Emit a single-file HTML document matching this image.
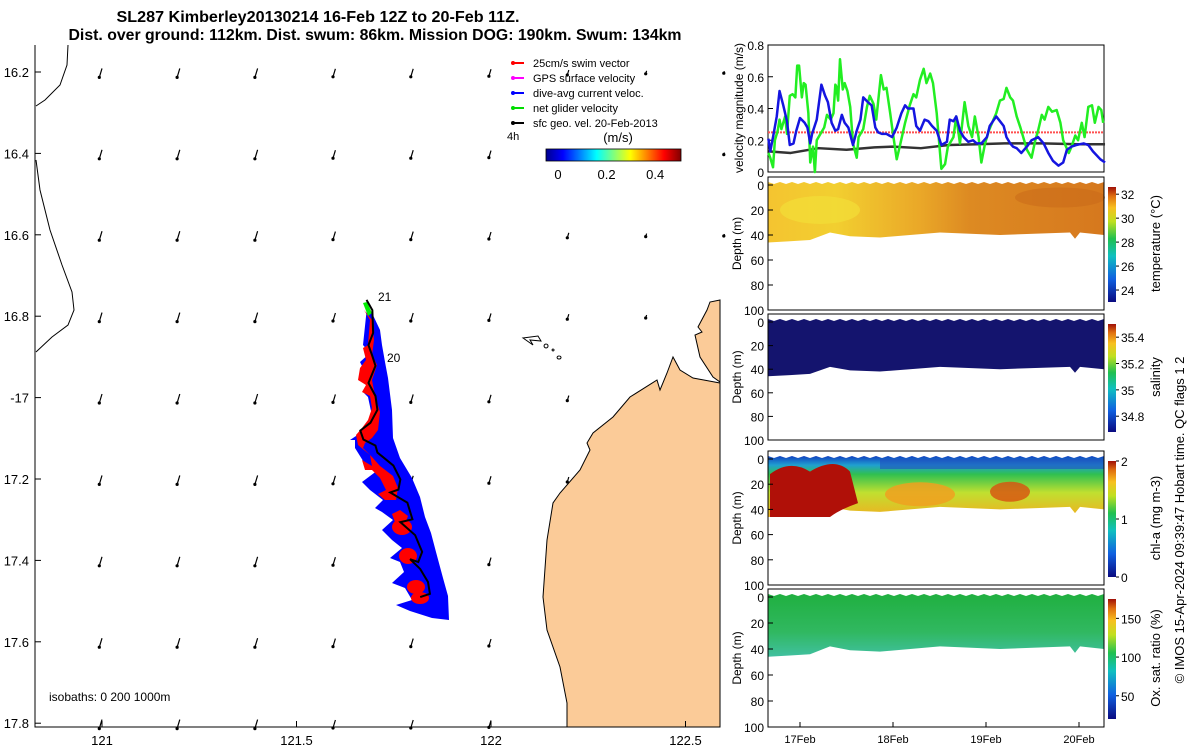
<!DOCTYPE html>
<html><head><meta charset="utf-8">
<style>
body{margin:0;background:#fff;}
svg{display:block;font-family:"Liberation Sans",sans-serif;}
</style></head>
<body>
<svg id="fig" width="1200" height="750" viewBox="0 0 1200 750">
<defs>
<linearGradient id="jet" x1="0" y1="0" x2="1" y2="0">
<stop offset="0" stop-color="#00008f"/><stop offset="0.125" stop-color="#0000ff"/><stop offset="0.375" stop-color="#00ffff"/><stop offset="0.5" stop-color="#7fff7f"/><stop offset="0.625" stop-color="#ffff00"/><stop offset="0.875" stop-color="#ff0000"/><stop offset="1" stop-color="#800000"/>
</linearGradient>
<linearGradient id="parula" x1="0" y1="1" x2="0" y2="0">
<stop offset="0" stop-color="#0a0a80"/><stop offset="0.2" stop-color="#1060e0"/><stop offset="0.4" stop-color="#10c0c0"/><stop offset="0.55" stop-color="#20c050"/><stop offset="0.7" stop-color="#c0e020"/><stop offset="0.82" stop-color="#f8c020"/><stop offset="0.92" stop-color="#e07010"/><stop offset="1" stop-color="#a01008"/>
</linearGradient>
<linearGradient id="tempg" x1="0" y1="0" x2="1" y2="0">
<stop offset="0" stop-color="#f4c430"/><stop offset="0.2" stop-color="#f2cf30"/><stop offset="0.45" stop-color="#eaa828"/><stop offset="0.6" stop-color="#dd8a22"/><stop offset="1" stop-color="#d6781e"/>
</linearGradient>
<linearGradient id="oxg" x1="0" y1="0" x2="0" y2="1">
<stop offset="0" stop-color="#20b040"/><stop offset="0.6" stop-color="#30b860"/><stop offset="1" stop-color="#40c0a0"/>
</linearGradient>
<linearGradient id="chlg" x1="0" y1="0" x2="0" y2="1">
<stop offset="0" stop-color="#1040c0"/><stop offset="0.15" stop-color="#20a0d0"/><stop offset="0.3" stop-color="#30c050"/><stop offset="0.6" stop-color="#c0e030"/><stop offset="1" stop-color="#f0b020"/>
</linearGradient>
</defs>
<g id="map"></g>
<g id="vel"></g>
<g id="sect"></g>
<text x="318" y="22" font-size="15.5" font-weight="bold" text-anchor="middle" textLength="403" lengthAdjust="spacingAndGlyphs">SL287 Kimberley20130214 16-Feb 12Z to 20-Feb 11Z.</text>
<text x="375" y="40" font-size="15.5" font-weight="bold" text-anchor="middle" textLength="613" lengthAdjust="spacingAndGlyphs">Dist. over ground: 112km. Dist. swum: 86km. Mission DOG: 190km. Swum: 134km</text>
<text transform="translate(1184,520) rotate(-90)" font-size="13" text-anchor="middle">© IMOS 15-Apr-2024 09:39:47 Hobart time. QC flags 1  2</text>
</svg>
<script>
// ---------- data ----------
const lonTicks=[121,121.5,122,122.5];
const latTicks=[16.2,16.4,16.6,16.8,17,17.2,17.4,17.6,17.8];
const trackLon=[121.68,121.695,121.697,121.685,121.695,121.703,121.685,121.703,121.708,121.69,121.664,121.672,121.703,121.708,121.749,121.767,121.762,121.741,121.785,121.798,121.767,121.805,121.823,121.813,121.792,121.818,121.838,121.843,121.818];
const trackLat=[16.76,16.785,16.841,16.871,16.898,16.922,16.964,16.996,17.03,17.062,17.081,17.103,17.118,17.135,17.167,17.201,17.226,17.233,17.258,17.299,17.306,17.338,17.379,17.404,17.397,17.421,17.453,17.482,17.49];
const velDays=[16.66,16.68,16.71,16.73,16.76,16.78,16.80,16.84,16.86,16.89,16.92,16.95,16.97,16.99,17.02,17.04,17.06,17.09,17.11,17.14,17.16,17.18,17.22,17.26,17.29,17.33,17.36,17.38,17.39,17.41,17.43,17.46,17.48,17.51,17.54,17.57,17.61,17.63,17.68,17.72,17.75,17.79,17.82,17.87,17.90,17.93,17.97,18.00,18.04,18.08,18.13,18.18,18.22,18.25,18.29,18.33,18.36,18.40,18.43,18.47,18.52,18.56,18.59,18.65,18.68,18.72,18.77,18.81,18.85,18.88,18.92,18.95,18.99,19.03,19.08,19.11,19.15,19.19,19.22,19.26,19.29,19.33,19.37,19.40,19.44,19.49,19.53,19.56,19.60,19.63,19.67,19.71,19.76,19.80,19.83,19.89,19.92,19.96,19.99,20.03,20.06,20.10,20.14,20.17,20.21,20.24,20.26];
const netVel=[0.12,0.09,0.03,0.20,0.26,0.33,0.27,0.35,0.24,0.48,0.49,0.47,0.67,0.67,0.47,0.56,0.55,0.37,0.06,0.16,0.00,0.20,0.24,0.28,0.36,0.33,0.37,0.55,0.54,0.45,0.71,0.52,0.56,0.51,0.41,0.18,0.09,0.22,0.27,0.41,0.48,0.43,0.33,0.61,0.52,0.53,0.37,0.24,0.08,0.18,0.31,0.42,0.49,0.47,0.58,0.65,0.56,0.62,0.56,0.37,0.02,0.05,0.16,0.22,0.35,0.18,0.44,0.29,0.22,0.35,0.22,0.06,0.18,0.26,0.33,0.37,0.45,0.46,0.53,0.47,0.45,0.35,0.28,0.22,0.14,0.09,0.20,0.26,0.36,0.33,0.41,0.38,0.39,0.31,0.20,0.12,0.16,0.23,0.20,0.31,0.22,0.41,0.42,0.31,0.41,0.39,0.31];
const curDays=[16.66,16.68,16.71,16.75,16.78,16.82,16.86,16.89,16.93,16.96,17.00,17.05,17.08,17.11,17.13,17.18,17.23,17.27,17.30,17.34,17.38,17.41,17.45,17.48,17.52,17.57,17.61,17.65,17.68,17.73,17.77,17.81,17.84,17.88,17.93,17.99,18.04,18.09,18.13,18.16,18.22,18.25,18.29,18.34,18.38,18.42,18.47,18.52,18.58,18.61,18.65,18.68,18.72,18.76,18.81,18.86,18.90,18.95,19.01,19.04,19.11,19.15,19.19,19.22,19.26,19.29,19.33,19.38,19.44,19.49,19.56,19.62,19.67,19.72,19.78,19.83,19.87,19.92,19.97,20.05,20.10,20.15,20.23,20.28];
const curVel=[0.21,0.13,0.22,0.35,0.51,0.42,0.32,0.17,0.18,0.26,0.34,0.31,0.28,0.18,0.24,0.33,0.55,0.48,0.44,0.31,0.26,0.27,0.36,0.31,0.28,0.17,0.26,0.33,0.47,0.44,0.42,0.28,0.25,0.24,0.24,0.22,0.28,0.37,0.42,0.40,0.40,0.29,0.26,0.33,0.32,0.29,0.26,0.17,0.19,0.33,0.32,0.35,0.26,0.22,0.19,0.20,0.18,0.18,0.22,0.29,0.35,0.32,0.29,0.22,0.18,0.16,0.15,0.12,0.16,0.20,0.22,0.18,0.12,0.07,0.04,0.06,0.14,0.16,0.17,0.18,0.17,0.13,0.08,0.06];
const geoDays=[16.66,16.9,17.2,17.5,17.8,18.0,18.3,18.6,18.9,19.2,19.6,20.0,20.28];
const geoVel=[0.13,0.12,0.15,0.14,0.155,0.16,0.15,0.17,0.175,0.18,0.18,0.175,0.175];
const swimVel=[0.25,0.25];
const velTicks=[0,0.2,0.4,0.6,0.8];
const dayTicks=[17,18,19,20];
const dayLabels=["17Feb","18Feb","19Feb","20Feb"];
const depthTicks=[0,20,40,60,80,100];
const tempTicks=[24,26,28,30,32];
const salTicks=[34.8,35,35.2,35.4];
const chlTicks=[0,1,2];
const oxTicks=[50,100,150];
const speedTicks=[0,0.2,0.4];

const NS="http://www.w3.org/2000/svg";
function mk(parent,tag,attrs,text){const e=document.createElementNS(NS,tag);for(const k in attrs)e.setAttribute(k,attrs[k]);if(text!==undefined)e.textContent=text;parent.appendChild(e);return e;}

// ---------- map ----------
const map=document.getElementById('map');
const mx=lon=>102+(lon-121)*389;
const my=lat=>72+(lat-16.2)*407;
const ML=35,MT=45,MR=720,MB=727;
let land=mk(map,'polygon',{points:"720,300 710,302 707,310 698,327 702,332 695,335 700,357 713,377 720,382 720,383 693,378 680,370 673,357 667,373 660,390 657,380 630,397 613,417 593,433 587,443 590,450 580,470 560,493 553,503 547,540 543,597 547,630 560,667 567,703 567,727 720,727",fill:"#fbcb98",stroke:"#000","stroke-width":1});


let isl=mk(map,'path',{d:"M523,338 L538,336 L541,341 L530,340 L533,345 Z M546,344 a2,2 0 1,0 0.1,0 M553,349 a1,1 0 1,0 0.1,0 M559,356 a2,1.5 0 1,0 0.1,0",fill:"none",stroke:"#000","stroke-width":1});


let iso1=mk(map,'polyline',{points:"68,45 67,65 60,85 45,100 36,106",fill:"none",stroke:"#000","stroke-width":1});


let iso2=mk(map,'polyline',{points:"36,160 40,190 50,230 62,265 72,292 74,310 68,325 52,337 36,352",fill:"none",stroke:"#000","stroke-width":1});


const colLen=[9,9,9,8,8,7,5,3,2];
const colMaxLat=[17.8,17.8,17.8,17.8,17.8,17.8,17.2,16.8,16.6];
for(let c=0;c<9;c++){for(let r=0;r<9;r++){
  const lon=121+0.2*c,lat=16.2+0.2*r;
  if(lat>colMaxLat[c]+0.01)continue;
  const x=mx(lon),y=my(lat),L=colLen[c];
  const g=mk(map,'g',{});
  
  
  mk(g,'line',{x1:x,y1:y-L*0.4,x2:x-L*0.3,y2:y+L*0.6,stroke:"#000","stroke-width":1.2});
  mk(g,'circle',{cx:x-L*0.3,cy:y+L*0.6,r:1.6,fill:"#000"});
}}
let blue=mk(map,'polygon',{points:"367,307 372,313 380,330 382,345 385,362 388,378 392,410 393,438 400,458 412,478 420,497 425,517 431,533 436,552 443,578 448,596 449,620 432,618 410,611 396,605 412,600 405,588 392,583 404,572 400,562 390,558 402,548 392,540 382,530 393,520 382,512 375,508 383,500 370,490 362,482 378,470 365,464 355,448 355,440 350,440 368,428 372,416 368,397 363,392 372,383 364,370 360,362 370,353 363,345",fill:"#0000ff"});


let red=mk(map,'polygon',{points:"364,310 370,320 368,345 363,348 366,360 360,368 358,380 366,385 362,392 370,396 372,408 368,420 362,428 356,435 358,445 370,455 372,466 362,460 365,470 372,470 380,478 386,490 378,494 385,500 396,500 398,488 393,476 380,466 372,457 363,448 365,443 372,438 378,430 380,412 375,396 372,380 377,365 372,355 374,340 372,320",fill:"#ff0000"});


let red2=mk(map,'polygon',{points:"392,514 400,510 408,516 405,524 395,522",fill:"#ff0000"});


const blobs=[[402,527,10,8],[408,556,9,8],[416,587,9,7],[420,598,9,6]];
blobs.forEach(b=>{const e=mk(map,'ellipse',{cx:b[0],cy:b[1],rx:b[2],ry:b[3],fill:"#ff0000"});

});
let grn=mk(map,'polygon',{points:"363,303 367,302 372,313 368,316",fill:"#00ee00"});


const tr=trackLon.map((lo,i)=>mx(lo)+","+my(trackLat[i])).join(" ");
let tl=mk(map,'polyline',{points:tr,fill:"none",stroke:"#000","stroke-width":2});


mk(map,'text',{x:378,y:301,"font-size":12},"21");
mk(map,'text',{x:387,y:362,"font-size":12},"20");
let mbox=mk(map,'path',{d:`M${ML},${MT} L${ML},${MB} L${MR},${MB}`,fill:"none",stroke:"#000","stroke-width":1});


lonTicks.forEach(l=>{const x=mx(l);mk(map,'line',{x1:x,y1:MB,x2:x,y2:MB-6,stroke:"#000"});
const t=mk(map,'text',{x:x,y:MB+18,"font-size":13,"text-anchor":"middle"},String(l));

});
latTicks.forEach(l=>{const y=my(l);mk(map,'line',{x1:ML,y1:y,x2:ML+6,y2:y,stroke:"#000"});
const t=mk(map,'text',{x:ML-6,y:y+5,"font-size":13,"text-anchor":"end"},l===17?"-17":String(l));

});
mk(map,'text',{x:49,y:701,"font-size":12},"isobaths: 0   200  1000m");
const leg=[["#ff0000","25cm/s swim vector"],["#ff00ff","GPS surface velocity"],["#0000ff","dive-avg current veloc."],["#00dd00","net glider velocity"],["#000","sfc geo. vel. 20-Feb-2013"]];
leg.forEach((d,i)=>{const y=63+i*15;const g=mk(map,'g',{});


mk(g,'line',{x1:512,y1:y,x2:524,y2:y,stroke:d[0],"stroke-width":2});
mk(g,'circle',{cx:513,cy:y,r:2,fill:d[0]});
mk(g,'text',{x:533,y:y+4,"font-size":11},d[1]);});
mk(map,'text',{x:507,y:140,"font-size":11},"4h");
mk(map,'text',{x:618,y:142,"font-size":13,"text-anchor":"middle"},"(m/s)");
let scb=mk(map,'rect',{x:546,y:149,width:135,height:12,fill:"url(#jet)",stroke:"#000","stroke-width":0.8});


speedTicks.forEach(v=>{const x=558+v*243;const t=mk(map,'text',{x:x,y:179,"font-size":13,"text-anchor":"middle"},String(v));

});

// ---------- velocity panel ----------
const vel=document.getElementById('vel');
const VL=768,VR=1104,VT=45,VB=172;
const tx=d=>800+(d-17)*93;
const vy=v=>VB-v/0.8*(VB-VT);
mk(vel,'rect',{x:VL,y:VT,width:VR-VL,height:VB-VT,fill:"#fff",stroke:"#000"});
velTicks.forEach(v=>{const y=vy(v);mk(vel,'line',{x1:VL,y1:y,x2:VL+5,y2:y,stroke:"#000"});
const t=mk(vel,'text',{x:VL-4,y:y+5,"font-size":12,"text-anchor":"end"},v===0?"0":v.toFixed(1));

});
mk(vel,'text',{transform:"translate(743,108) rotate(-90)","font-size":12,"text-anchor":"middle"},"velocity magnitude (m/s)");
let sw=mk(vel,'line',{x1:VL,y1:vy(swimVel[0]),x2:VR,y2:vy(swimVel[1]),stroke:"#ff5050","stroke-width":2,"stroke-dasharray":"2,1"});


function series(days,vals,col,w,name){const p=mk(vel,'polyline',{points:days.map((d,i)=>tx(d)+","+vy(vals[i])).join(" "),fill:"none",stroke:col,"stroke-width":w,"stroke-linejoin":"round"});

}
series(geoDays,geoVel,"#333",2.5,"geo-velocity-line");
series(velDays,netVel,"#22ee22",2.5,"net-glider-velocity-line");
series(curDays,curVel,"#1515e0",2.5,"dive-avg-current-line");

// ---------- section panels ----------
const sect=document.getElementById('sect');
const panels=[
 {t:177,b:310,fill:"url(#tempg)",label:"temperature (°C)",ticks:tempTicks,min:23,max:32.6,name:"temperature"},
 {t:314,b:440,fill:"#14146e",label:"salinity",ticks:salTicks,min:34.68,max:35.5,name:"salinity"},
 {t:451,b:585,fill:"url(#chlg)",label:"chl-a (mg m-3)",ticks:chlTicks,min:0,max:2,name:"chl-a"},
 {t:589,b:727,fill:"url(#oxg)",label:"Ox. sat. ratio (%)",ticks:oxTicks,min:20,max:175,name:"oxygen"}];
panels.forEach((P,pi)=>{
  const g=mk(sect,'g',{});
  
  
  const d0=P.t+8,dy=z=>d0+z/100*(P.b-d0);
  let pts=[];
  for(let x=VL;x<=VR;x+=6){pts.push(x+","+(d0-3+((x/6)%2?2:0)));}
  const bot=[[1104,40],[1080,38],[1075,43],[1070,38],[1000,40],[940,38],[880,42],[850,41],[830,38],[810,44],[790,45],[768,46]];
  bot.forEach(b=>pts.push(b[0]+","+dy(b[1])));
  const f=mk(g,'polygon',{points:pts.join(" "),fill:P.fill});
  
  
  if(pi===0){mk(g,'ellipse',{cx:820,cy:dy(20),rx:40,ry:14,fill:"#f2de38",opacity:0.7});mk(g,'ellipse',{cx:1060,cy:dy(10),rx:45,ry:10,fill:"#c86818",opacity:0.5});}
  if(pi===2){
    mk(g,'path',{d:`M770,${dy(12)} Q790,${dy(0)} 810,${dy(10)} Q835,${dy(-2)} 850,${dy(10)} L858,${dy(35)} Q840,${dy(40)} 830,${dy(46)} L770,${dy(46)} Z`,fill:"#b01008"});
    mk(g,'ellipse',{cx:920,cy:dy(28),rx:35,ry:12,fill:"#f0a020",opacity:0.85});
    mk(g,'ellipse',{cx:1010,cy:dy(26),rx:20,ry:10,fill:"#d85010",opacity:0.8});
    mk(g,'rect',{x:880,y:dy(0),width:224,height:10,fill:"#2050c0",opacity:0.6});
  }
  mk(g,'rect',{x:VL,y:P.t,width:VR-VL,height:P.b-P.t,fill:"none",stroke:"#000"});
  depthTicks.forEach(z=>{const y=dy(z);mk(g,'line',{x1:VL,y1:y,x2:VL+5,y2:y,stroke:"#000"});
  const t=mk(g,'text',{x:VL-4,y:y+5,"font-size":12,"text-anchor":"end"},String(z));
  
  });
  mk(g,'text',{transform:`translate(741,${(P.t+P.b)/2}) rotate(-90)`,"font-size":12,"text-anchor":"middle"},"Depth (m)");
  const ct=P.t+10,cb=P.b-8;
  const cbar=mk(g,'rect',{x:1108,y:ct,width:8,height:cb-ct,fill:"url(#parula)"});
  
  
  const cy=v=>cb-(v-P.min)/(P.max-P.min)*(cb-ct);
  P.ticks.forEach(v=>{const y=cy(v);mk(g,'line',{x1:1116,y1:y,x2:1119,y2:y,stroke:"#000"});
  const t=mk(g,'text',{x:1121,y:y+5,"font-size":12},String(v));
  
  });
  mk(g,'text',{transform:`translate(1160,${(P.t+P.b)/2}) rotate(-90)`,"font-size":13,"text-anchor":"middle"},P.label);
  if(pi===3){dayTicks.forEach((d,i)=>{const x=tx(d);mk(g,'line',{x1:x,y1:P.b,x2:x,y2:P.b-5,stroke:"#000"});
  const t=mk(g,'text',{x:x,y:P.b+16,"font-size":11,"text-anchor":"middle"},dayLabels[i]);
  
  });}
});
</script>
</body></html>
